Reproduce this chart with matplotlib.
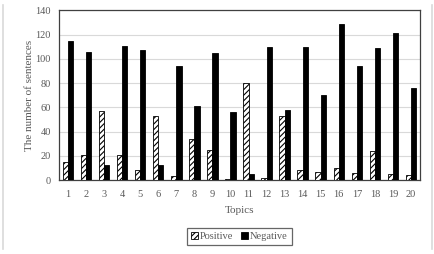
import matplotlib
matplotlib.use("Agg")
import matplotlib.pyplot as plt
from matplotlib.lines import Line2D
import numpy as np

topics = [str(i) for i in range(1, 21)]
positive = [15, 21, 57, 21, 8, 53, 3, 34, 25, 1, 80, 2, 53, 8, 7, 10, 6, 24, 5, 4]
negative = [115, 106, 12, 111, 107, 12, 94, 61, 105, 56, 5, 110, 58, 110, 70, 129, 94, 109, 121, 76]

plt.rcParams['font.family'] = ['Liberation Serif', 'DejaVu Serif']
plt.rcParams['hatch.linewidth'] = 0.8
txt = '#595959'

fig = plt.figure(figsize=(4.35, 2.54), dpi=100)
ax = fig.add_axes([0.1356, 0.2913, 0.8299, 0.6674])

x = np.arange(len(topics))
w = 0.29
ax.bar(x - w / 2, positive, w, color='white', edgecolor='black', hatch='//////',
       linewidth=0.6, label='Positive', zorder=3)
ax.bar(x + w / 2, negative, w, color='black', edgecolor='black',
       linewidth=0.6, label='Negative', zorder=3)

ax.set_xlim(-0.5, len(topics) - 0.5)
ax.set_ylim(0, 140)
ax.set_yticks(range(0, 141, 20))
ax.set_xticks(x)
ax.set_xticklabels(topics)
ax.yaxis.grid(True, color='#d9d9d9', linewidth=0.8, zorder=0)
ax.set_axisbelow(True)
ax.tick_params(axis='y', length=0, labelsize=7.5, labelcolor=txt, pad=6)
ax.tick_params(axis='x', length=0, labelsize=7.5, labelcolor=txt, pad=7)
for s in ax.spines.values():
    s.set_color('#404040')
    s.set_linewidth(0.9)

ax.set_xlabel('Topics', fontsize=8, color=txt, labelpad=5)
ax.set_ylabel('The number of sentences', fontsize=8, color=txt, labelpad=1)

leg = ax.legend(loc='center', bbox_to_anchor=(0.5, -0.335), ncol=2, fontsize=7.5,
                frameon=True, fancybox=False, handlelength=0.6, handleheight=0.6,
                handletextpad=0.2, columnspacing=0.8, borderpad=0.4)
leg.get_frame().set_edgecolor('#404040')
leg.get_frame().set_linewidth(0.9)
for t in leg.get_texts():
    t.set_color(txt)

# light outer frame lines
fig.add_artist(Line2D([3 / 435, 3 / 435], [0.02, 0.98], color='#d9d9d9', lw=1.2))
fig.add_artist(Line2D([432 / 435, 432 / 435], [0.02, 0.98], color='#d9d9d9', lw=1.2))

fig.savefig('out.png', dpi=100)
